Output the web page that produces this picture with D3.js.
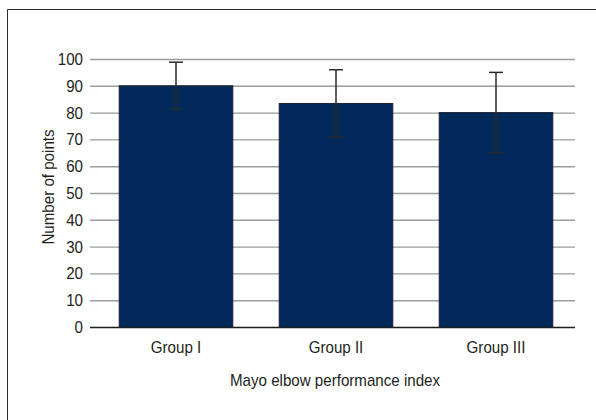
<!DOCTYPE html>
<html>
<head>
<meta charset="utf-8">
<script src="https://cdn.jsdelivr.net/npm/d3@7"></script>
<style>
  html, body { margin: 0; padding: 0; background: #fff; }
  svg text { font-family: "Liberation Sans", Arial, sans-serif; fill: #231f20; font-size: 17px; }
</style>
</head>
<body>
<svg id="chart" width="596" height="420"></svg>
<script>
// Mayo elbow performance index by group (mean ± SD)
const groups = ["Group I", "Group II", "Group III"];
const means = [90, 83.4, 80];
const sds = [8.8, 12.6, 15];
const yTicks = [0, 10, 20, 30, 40, 50, 60, 70, 80, 90, 100];

const svg = d3.select("#chart");

const plotLeft = 96, plotRight = 576, plotTop = 59, plotBottom = 327;
const gridStart = 90, gridEnd = 575;
const narrow = 0.89; // horizontal squeeze to get a condensed face

const x = d3.scaleBand().domain(groups).range([plotLeft, plotRight]).paddingInner(0.29).paddingOuter(0.145);
const y = d3.scaleLinear().domain([0, 100]).range([plotBottom, plotTop]);

// outer frame (top and left edges)
svg.append("path")
  .attr("d", "M7.5,420 V9.5 H596")
  .attr("fill", "none")
  .attr("stroke", "#2b2b2b")
  .attr("stroke-width", 1);

// horizontal gridlines with tick labels
const yAxis = d3.axisLeft(y)
  .tickValues(yTicks)
  .tickSize(0)
  .tickPadding(7)
  .tickFormat(d3.format("d"));

const gy = svg.append("g")
  .attr("transform", `translate(${gridStart},0)`)
  .call(yAxis);
gy.select(".domain").remove();
gy.attr("font-family", null).attr("font-size", null);
gy.selectAll(".tick line")
  .attr("x1", 0)
  .attr("x2", gridEnd - gridStart)
  .attr("stroke", d => d === 0 ? "#1e1e1e" : "#9c9c9c")
  .attr("stroke-width", d => d === 0 ? 1.6 : 1.4);
gy.selectAll(".tick text")
  .attr("x", 0)
  .attr("transform", `translate(-7,0) scale(${narrow},1)`);

// bars
svg.append("g").selectAll("rect")
  .data(groups)
  .join("rect")
  .attr("x", d => x(d))
  .attr("y", (d, i) => y(means[i]))
  .attr("width", x.bandwidth())
  .attr("height", (d, i) => y(0) - y(means[i]))
  .attr("fill", "#012a5a")
  .attr("stroke", "#1c2330")
  .attr("stroke-width", 1);

// error bars
const capW = 14;
const eb = svg.append("g").selectAll("g")
  .data(groups)
  .join("g")
  .attr("stroke", "#2a2a2a")
  .attr("stroke-width", 1.5);
eb.append("line")
  .attr("x1", d => x(d) + x.bandwidth() / 2)
  .attr("x2", d => x(d) + x.bandwidth() / 2)
  .attr("y1", (d, i) => y(means[i] + sds[i]))
  .attr("y2", (d, i) => y(means[i] - sds[i]));
eb.append("line")
  .attr("x1", d => x(d) + x.bandwidth() / 2 - capW / 2)
  .attr("x2", d => x(d) + x.bandwidth() / 2 + capW / 2)
  .attr("y1", (d, i) => y(means[i] + sds[i]))
  .attr("y2", (d, i) => y(means[i] + sds[i]));
eb.append("line")
  .attr("x1", d => x(d) + x.bandwidth() / 2 - capW / 2)
  .attr("x2", d => x(d) + x.bandwidth() / 2 + capW / 2)
  .attr("y1", (d, i) => y(means[i] - sds[i]))
  .attr("y2", (d, i) => y(means[i] - sds[i]));

// category labels
const xAxis = d3.axisBottom(x).tickSize(0).tickPadding(14);
const gx = svg.append("g")
  .attr("transform", `translate(0,${plotBottom})`)
  .call(xAxis);
gx.select(".domain").remove();
gx.attr("font-family", null).attr("font-size", null);
gx.selectAll(".tick text")
  .attr("transform", `scale(${narrow},1)`);

// axis titles
svg.append("g")
  .attr("transform", "translate(335,386)")
  .append("text")
  .attr("text-anchor", "middle")
  .attr("transform", `scale(${narrow},1)`)
  .text("Mayo elbow performance index");

svg.append("g")
  .attr("transform", "translate(54,187) rotate(-90)")
  .append("text")
  .attr("text-anchor", "middle")
  .attr("transform", `scale(${narrow},1)`)
  .text("Number of points");
</script>
</body>
</html>
